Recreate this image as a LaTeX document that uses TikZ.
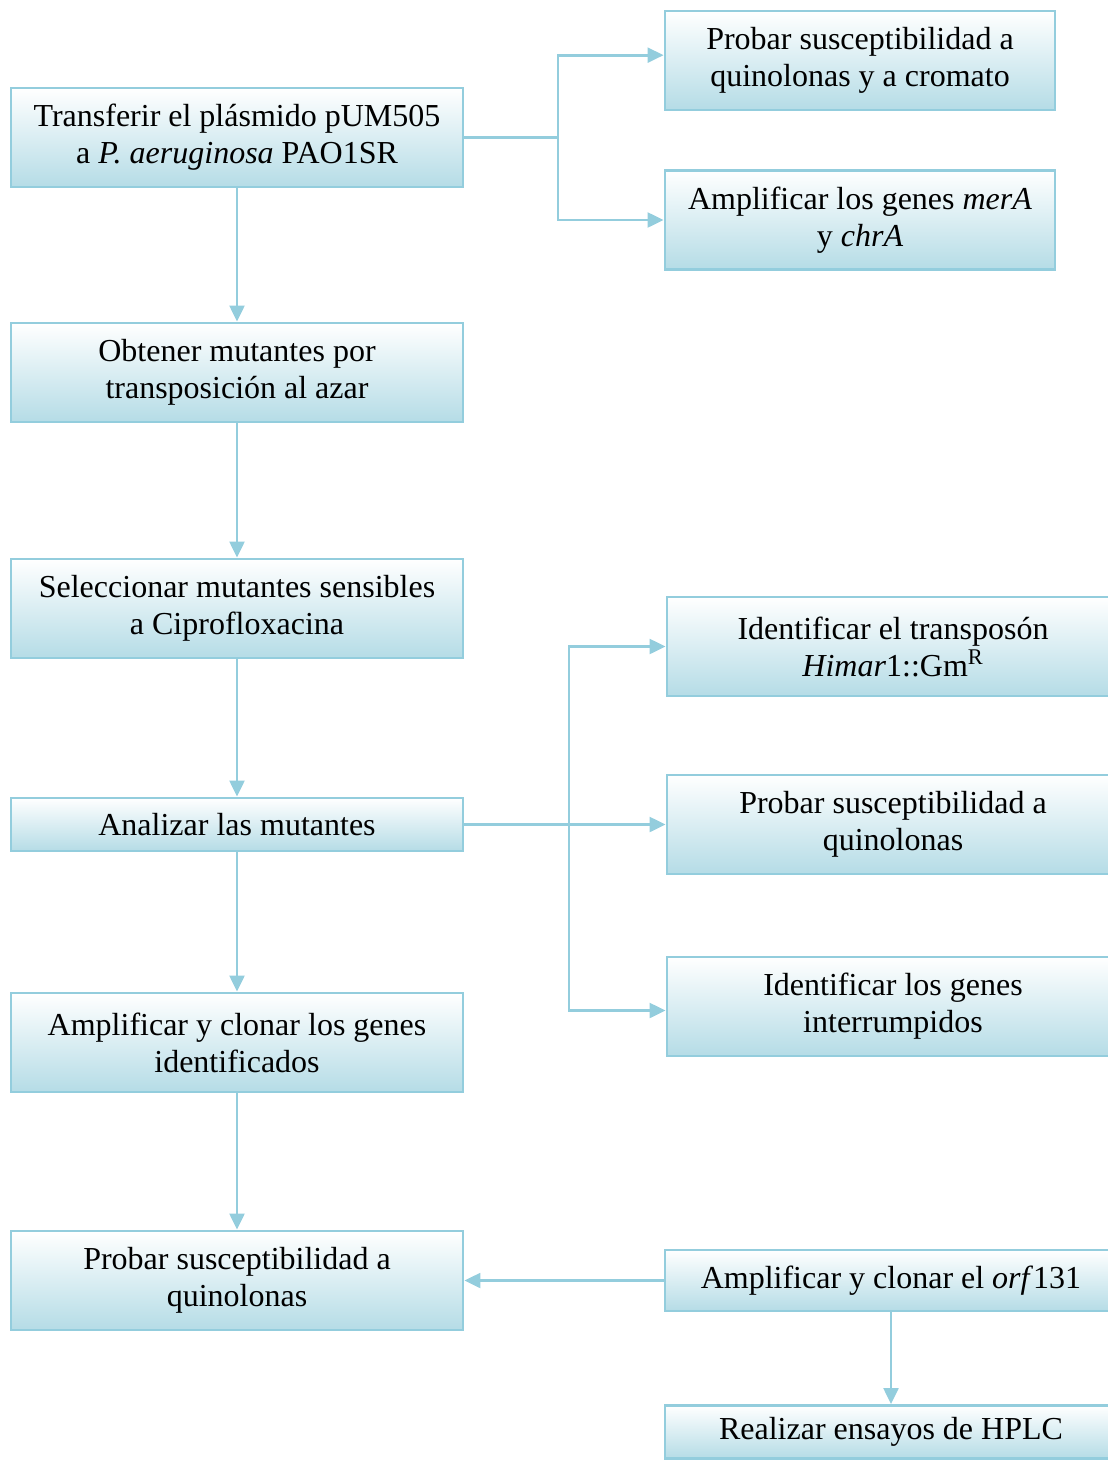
\documentclass[tikz,border=0pt]{standalone}
\usepackage{fontspec}
\setmainfont{Liberation Serif}
\usetikzlibrary{positioning,arrows.meta}

\definecolor{boxline}{HTML}{93CDDD}
\definecolor{boxfill}{HTML}{B5DCE6}

\tikzset{
  stepbox/.style={draw=boxline, line width=2pt, top color=white, bottom color=boxfill,
    minimum width=339pt, minimum height=74.25pt, align=center, inner sep=0pt,
    font=\fontsize{24}{27.75}\selectfont},
  smallbox/.style={stepbox, minimum height=39.75pt},
  link/.style={draw=boxline, line width=2.2pt},
}

\begin{document}
\begin{tikzpicture}[x=0.75pt,y=-0.75pt,>={Triangle[length=12pt,width=11pt]}]

	\useasboundingbox (0,0) rectangle (1107,1460);

	% left column
	\node[stepbox] (transferir) at (237,137.5){Transferir el plásmido pUM505\\a \textit{P. aeruginosa} PAO1SR};
	\node[stepbox] (obtener) at (237,372.5){Obtener mutantes por\\transposición al azar};
	\node[stepbox] (seleccionar) at (237,608.5){Seleccionar mutantes sensibles\\a Ciprofloxacina};
	\node[smallbox] (analizar) at (237,824.5){Analizar las mutantes};
	\node[stepbox] (clonar) at (237,1042.5){Amplificar y clonar los genes\\identificados};
	\node[stepbox] (probar) at (237,1280.5){Probar susceptibilidad a\\quinolonas};

	% right column, top
	\node[stepbox, minimum width=292.5pt] (cromato) at (860,60.5){Probar susceptibilidad a\\quinolonas y a cromato};
	\node[stepbox, minimum width=292.5pt] (genes) at (860,220){Amplificar los genes \textit{merA}\\y \textit{chrA}};

	% right column, middle
	\node[stepbox] (transposon) at (893,646.5){Identificar el transposón\\\textit{Himar}1::Gm\textsuperscript{R}};
	\node[stepbox] (quinolonas) at (893,824.5){Probar susceptibilidad a\\quinolonas};
	\node[stepbox] (interrumpidos) at (893,1006.5){Identificar los genes\\interrumpidos};

	% right column, bottom
	\node[stepbox, minimum height=45.75pt] (orf) at (891,1280.5){Amplificar y clonar el \textit{orf}131};
	\node[smallbox] (hplc) at (891,1432){Realizar ensayos de HPLC};

	\coordinate (split1) at (558,137.5);
	\coordinate (split2) at (569,824.5);

	\draw[link,->] (transferir) -- (obtener);
	\draw[link,->] (obtener) -- (seleccionar);
	\draw[link,->] (seleccionar) -- (analizar);
	\draw[link,->] (analizar) -- (clonar);
	\draw[link,->] (clonar) -- (probar);

	\draw[link] (transferir.east) -- (split1);
	\draw[link,->] (split1) |- ([yshift=4pt]cromato.west);
	\draw[link,->] (split1) |- (genes.west);

	\draw[link,->] (analizar.east) -- (quinolonas.west);
	\draw[link,->] (split2) |- (transposon.west);
	\draw[link,->] (split2) |- ([yshift=-3pt]interrumpidos.west);

	\draw[link,->] (orf.west) -- (probar.east);
	\draw[link,->] (orf) -- (hplc);

\end{tikzpicture}
\end{document}
